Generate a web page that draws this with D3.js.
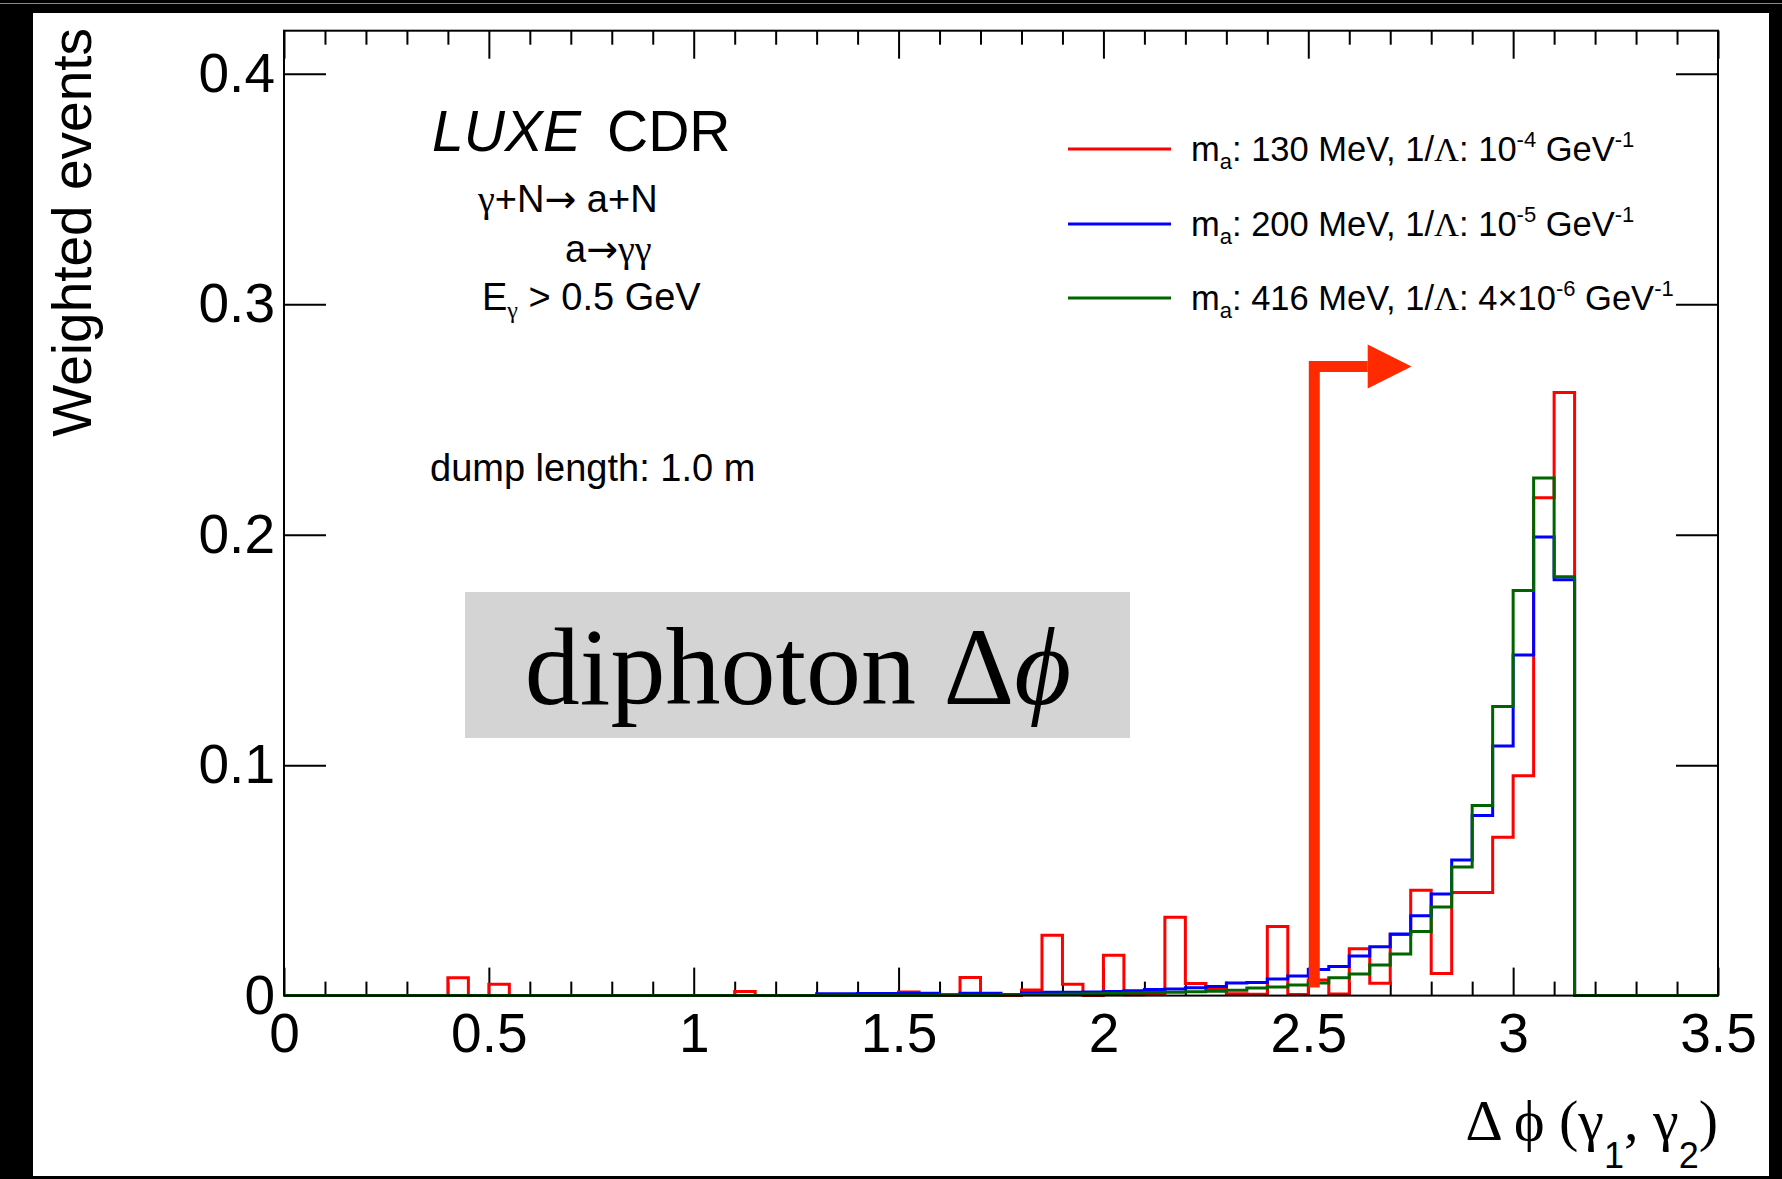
<!DOCTYPE html>
<html>
<head>
<meta charset="utf-8">
<script src="https://cdn.jsdelivr.net/npm/d3@7"></script>
<style>
html, body { margin: 0; padding: 0; background: #000; }
svg { display: block; }
text { font-family: "Liberation Sans", Arial, Helvetica, sans-serif; fill: #000; }
.serif { font-family: "Liberation Serif", "Times New Roman", serif; }
.arr { font-family: "DejaVu Sans", sans-serif; }
</style>
</head>
<body>
<svg id="chart" width="1782" height="1179"></svg>
<script>
// histogram binning: 70 bins of 0.05 from 0 to 3.5
var binStart = 0, binWidth = 0.05;

// m_a = 130 MeV
var redVals = [
  0, 0, 0, 0, 0, 0, 0, 0, 0.0078, 0,
  0.0049, 0, 0, 0, 0, 0, 0, 0, 0, 0,
  0, 0, 0.0018, 0, 0, 0, 0, 0, 0, 0,
  0.0016, 0, 0, 0.0079, 0, 0, 0.0024, 0.0262, 0.0049, 0,
  0.0175, 0.0004, 0.0005, 0.0340, 0.0053, 0.0030, 0.0008, 0.0006, 0.0300, 0.0005,
  0.0068, 0.0007, 0.0203, 0.0054, 0.0265, 0.0457, 0.0096, 0.0447, 0.0447, 0.0687,
  0.0954, 0.2160, 0.2617, 0, 0, 0, 0, 0, 0, 0
];
// m_a = 200 MeV
var blueVals = [
  0, 0, 0, 0, 0, 0, 0, 0, 0, 0,
  0, 0, 0, 0, 0, 0, 0, 0, 0, 0,
  0, 0, 0, 0, 0, 0, 0.0008, 0.0008, 0.0009, 0.0009,
  0.0010, 0.0010, 0.0004, 0.0010, 0.0010, 0.0005, 0.0012, 0.0014, 0.0015, 0.0016,
  0.0018, 0.0021, 0.0026, 0.0029, 0.0034, 0.0040, 0.0055, 0.0057, 0.0072, 0.0085,
  0.0113, 0.0126, 0.0172, 0.0212, 0.0267, 0.0346, 0.0441, 0.0588, 0.0782, 0.1083,
  0.1478, 0.1990, 0.1804, 0, 0, 0, 0, 0, 0, 0
];
// m_a = 416 MeV
var greenVals = [
  0, 0, 0, 0, 0, 0, 0, 0, 0, 0,
  0, 0, 0, 0, 0, 0, 0, 0, 0, 0,
  0, 0, 0, 0, 0, 0, 0, 0, 0, 0,
  0, 0, 0.0003, 0, 0, 0.0004, 0.0005, 0.0006, 0.0007, 0.0008,
  0.0009, 0.0011, 0.0013, 0.0015, 0.0017, 0.0019, 0.0023, 0.0033, 0.0037, 0.0046,
  0.0055, 0.0077, 0.0094, 0.0133, 0.0180, 0.0278, 0.0384, 0.0558, 0.0825, 0.1254,
  0.1758, 0.2246, 0.1818, 0, 0, 0, 0, 0, 0, 0
];

var xMajorTicks = [0, 0.5, 1, 1.5, 2, 2.5, 3, 3.5];
var xMinorTicks = [0.1, 0.2, 0.3, 0.4, 0.6, 0.7, 0.8, 0.9, 1.1, 1.2, 1.3, 1.4, 1.6, 1.7, 1.8, 1.9,
                   2.1, 2.2, 2.3, 2.4, 2.6, 2.7, 2.8, 2.9, 3.1, 3.2, 3.3, 3.4];
var yTicks = [0, 0.1, 0.2, 0.3, 0.4];

var seriesNames = ["130", "200", "416"];
var seriesCoupling = [["", "10", "-4"], ["", "10", "-5"], ["4\u00d7", "10", "-6"]];
var seriesColors = ["#ff0000", "#0000ff", "#006400"];
var seriesVals = [redVals, blueVals, greenVals];

var cutValue = 2.5;

var svg = d3.select("#chart");
var W = 1782, H = 1179;
var plotL = 284, plotR = 1718, plotT = 30.7, plotB = 995.6;

// page background, black border like the screenshot
svg.append("rect").attr("x", 0).attr("y", 0).attr("width", W).attr("height", H).attr("fill", "#000");
svg.append("rect").attr("x", 0).attr("y", 3).attr("width", W).attr("height", 1).attr("fill", "#888");
svg.append("rect").attr("x", 33).attr("y", 13).attr("width", 1769 - 33).attr("height", 1176 - 13).attr("fill", "#fff");

var x = d3.scaleLinear().domain([0, 3.5]).range([plotL, plotR]);
var y = d3.scaleLinear().domain([0, 0.4187]).range([plotB, plotT]);

// axes
function styleAxis(g) {
  g.select(".domain").remove();
  g.selectAll(".tick line").attr("stroke", "#000").attr("stroke-width", 2);
  g.selectAll(".tick text").attr("font-size", 55).attr("font-family", "Liberation Sans, Arial, sans-serif").attr("fill", "#000");
}

svg.append("g").attr("transform", "translate(0," + plotB + ")")
  .call(d3.axisBottom(x).tickValues(xMajorTicks).tickSize(-28).tickPadding(17).tickFormat(d3.format("~g")))
  .call(styleAxis);
svg.append("g").attr("transform", "translate(0," + plotB + ")")
  .call(d3.axisBottom(x).tickValues(xMinorTicks).tickSize(-14).tickFormat(""))
  .call(styleAxis);
svg.append("g").attr("transform", "translate(0," + plotT + ")")
  .call(d3.axisTop(x).tickValues(xMajorTicks).tickSize(-28).tickFormat(""))
  .call(styleAxis);
svg.append("g").attr("transform", "translate(0," + plotT + ")")
  .call(d3.axisTop(x).tickValues(xMinorTicks).tickSize(-14).tickFormat(""))
  .call(styleAxis);
svg.append("g").attr("transform", "translate(" + plotL + ",0)")
  .call(d3.axisLeft(y).tickValues(yTicks).tickSize(-42).tickPadding(9).tickFormat(d3.format("~g")))
  .call(styleAxis);
svg.append("g").attr("transform", "translate(" + plotR + ",0)")
  .call(d3.axisRight(y).tickValues(yTicks).tickSize(-42).tickFormat(""))
  .call(styleAxis);

// histograms
var line = d3.line().x(function(d){ return x(d[0]); }).y(function(d){ return y(d[1]); });
seriesVals.forEach(function(vals, s) {
  var pts = [];
  vals.forEach(function(v, i) {
    pts.push([binStart + i * binWidth, v]);
    pts.push([binStart + (i + 1) * binWidth, v]);
  });
  svg.append("path")
    .attr("d", line(pts))
    .attr("fill", "none")
    .attr("stroke", seriesColors[s])
    .attr("stroke-width", 3)
    .attr("stroke-linejoin", "miter");
});

// frame
svg.append("rect").attr("x", plotL).attr("y", plotT).attr("width", plotR - plotL).attr("height", plotB - plotT)
  .attr("fill", "none").attr("stroke", "#000").attr("stroke-width", 2);

// axis titles
svg.append("text")
  .attr("transform", "translate(91,28) rotate(-90)")
  .attr("text-anchor", "end")
  .attr("font-size", 55)
  .text("Weighted events");

var xt = svg.append("text").attr("x", plotR).attr("y", 1140).attr("text-anchor", "end").attr("font-size", 58);
xt.append("tspan").attr("class", "serif").text("\u0394 \u03d5 (\u03b3");
xt.append("tspan").attr("font-size", 36).attr("dy", 28).text("1");
xt.append("tspan").attr("class", "serif").attr("dy", -28).text(", \u03b3");
xt.append("tspan").attr("font-size", 36).attr("dy", 28).text("2");
xt.append("tspan").attr("class", "serif").attr("dy", -28).text(")");

// labels inside the frame
svg.append("text").attr("x", 432).attr("y", 151).attr("font-size", 57).attr("font-style", "italic").text("LUXE");
svg.append("text").attr("x", 607).attr("y", 151).attr("font-size", 57).text("CDR");

var t1 = svg.append("text").attr("x", 478).attr("y", 212).attr("font-size", 38);
t1.append("tspan").attr("class", "serif").text("\u03b3");
t1.append("tspan").text("+N");
t1.append("tspan").attr("class", "arr").text("\u2192");
t1.append("tspan").text("  a+N");

var t2 = svg.append("text").attr("x", 565).attr("y", 262).attr("font-size", 38);
t2.append("tspan").text("a");
t2.append("tspan").attr("class", "arr").text("\u2192");
t2.append("tspan").attr("class", "serif").text("\u03b3\u03b3");

var t3 = svg.append("text").attr("x", 482).attr("y", 310).attr("font-size", 38);
t3.append("tspan").text("E");
t3.append("tspan").attr("class", "serif").attr("font-size", 24).attr("dy", 8).text("\u03b3");
t3.append("tspan").attr("dy", -8).text(" > 0.5 GeV");

svg.append("text").attr("x", 430).attr("y", 481).attr("font-size", 38).text("dump length: 1.0 m");

// legend
var legY = [149, 224, 298];
seriesNames.forEach(function(name, s) {
  svg.append("line").attr("x1", 1068).attr("x2", 1171).attr("y1", legY[s]).attr("y2", legY[s])
    .attr("stroke", seriesColors[s]).attr("stroke-width", 3);
  var t = svg.append("text").attr("x", 1191).attr("y", legY[s] + 12).attr("font-size", 34.5);
  t.append("tspan").text("m");
  t.append("tspan").attr("font-size", 22).attr("dy", 8).text("a");
  t.append("tspan").attr("dy", -8).text(": " + name + " MeV, 1/");
  t.append("tspan").attr("class", "serif").text("\u039b");
  t.append("tspan").text(": " + seriesCoupling[s][0] + seriesCoupling[s][1]);
  t.append("tspan").attr("font-size", 22).attr("dy", -14).text(seriesCoupling[s][2]);
  t.append("tspan").attr("dy", 14).text(" GeV");
  t.append("tspan").attr("font-size", 22).attr("dy", -14).text("-1");
});

// cut arrow at delta phi = 2.5
var arrowTop = y(0.273), arrowX = x(cutValue) + 6, arrowEnd = x(2.645), arrowTip = x(2.752);
var arrowColor = "#ff2a00";
svg.append("path")
  .attr("d", "M" + arrowX + "," + (plotB - 8) + "V" + arrowTop + "H" + arrowEnd)
  .attr("fill", "none").attr("stroke", arrowColor).attr("stroke-width", 11);
svg.append("path")
  .attr("d", "M" + arrowEnd + "," + (arrowTop - 22) + "L" + arrowTip + "," + arrowTop + "L" + arrowEnd + "," + (arrowTop + 22) + "Z")
  .attr("fill", arrowColor);

// overlay box
svg.append("rect").attr("x", 465).attr("y", 592).attr("width", 665).attr("height", 146).attr("fill", "#d4d4d4");
var ov = svg.append("text").attr("class", "serif").attr("x", 798).attr("y", 704)
  .attr("text-anchor", "middle").attr("font-size", 110);
ov.append("tspan").text("diphoton \u0394");
ov.append("tspan").attr("font-style", "italic").text("\u03d5");
</script>
</body>
</html>
